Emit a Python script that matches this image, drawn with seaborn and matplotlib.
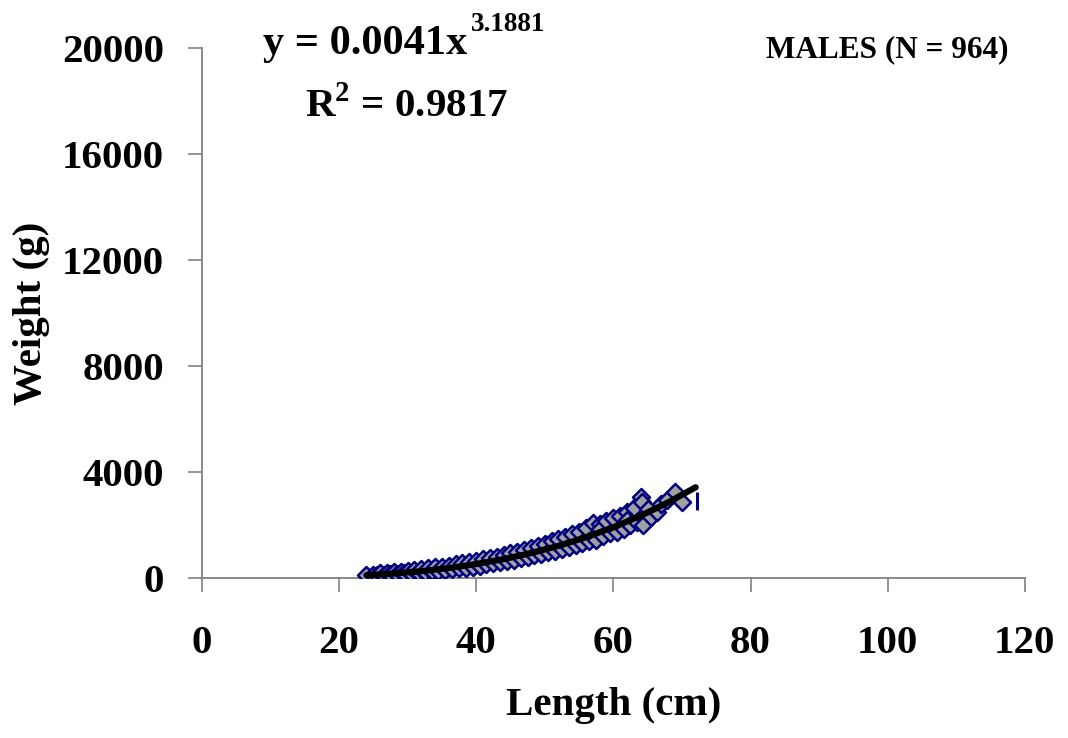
import matplotlib
matplotlib.use("Agg")
import matplotlib.pyplot as plt
import numpy as np
import pandas as pd
import seaborn as sns

# length-weight data (males)
length_cm = [24.0, 25.0, 25.5, 26.0, 26.5, 27.0, 27.5, 28.0, 28.5, 29.0, 29.5, 30.0, 30.5,
             31.0, 31.5, 32.0, 32.5, 33.0, 33.5, 34.0, 34.5, 35.0, 35.5, 36.0, 36.5, 37.0,
             37.5, 38.0, 38.5, 39.0, 39.5, 40.0, 40.5, 41.0, 41.5, 42.0, 42.5, 43.0, 43.5,
             44.0, 44.5, 45.0, 45.5, 46.0, 46.5, 47.0, 47.5, 48.0, 48.5, 49.0, 49.5, 50.0,
             50.5, 51.0, 51.5, 52.0, 52.5, 53.0, 53.5, 54.0, 54.5, 55.0, 55.5, 56.0, 56.5,
             57.0, 57.5, 58.0, 58.0, 58.5, 59.0, 59.5, 60.0, 60.5, 61.0, 61.5, 62.0, 62.0,
             62.5, 63.0, 63.5, 64.0, 64.2, 64.5, 64.3, 65.0, 65.5, 66.3, 67.0, 67.8, 69.0,
             70.0]
weight_g = [100, 130, 100, 170, 120, 190, 140, 220, 150, 240, 170, 270, 190,
            290, 210, 330, 230, 360, 260, 400, 280, 430, 300, 470, 330, 510,
            360, 560, 390, 600, 430, 650, 470, 700, 510, 750, 550, 810, 590,
            870, 640, 930, 690, 1000, 740, 1070, 790, 1150, 850, 1220, 910, 1300,
            970, 1380, 1030, 1470, 1100, 1560, 1170, 1650, 1240, 1750, 1310, 1880, 1380,
            2070, 1450, 2050, 1850, 1600, 2150, 1700, 2250, 1750, 2350, 1850, 2500, 2200,
            2000, 2650, 2100, 3050, 2850, 2300, 2000, 2600, 2300, 2490, 2800, 2940, 3240,
            2870]

# lone mark at the right end
edge_length = [72.2]
edge_weight = [2900]

# power trendline y = 0.0041x^3.1881
trend_length = [24, 28, 32, 36, 40, 44, 48, 52, 56, 60, 64, 68, 72]
trend_weight = [103, 169, 258, 376, 526, 712, 940, 1213, 1536, 1913, 2351, 2854, 3424]

x_ticks = [0, 20, 40, 60, 80, 100, 120]
y_ticks = [0, 4000, 8000, 12000, 16000, 20000]

sns.set_style("ticks")
plt.rcParams['font.family'] = ['Liberation Serif', 'DejaVu Serif']
plt.rcParams['font.weight'] = 'bold'
plt.rcParams['mathtext.fontset'] = 'custom'
plt.rcParams['mathtext.rm'] = 'Liberation Serif:bold'
plt.rcParams['mathtext.bf'] = 'Liberation Serif:bold'
plt.rcParams['text.color'] = 'black'
plt.rcParams['axes.labelcolor'] = 'black'
plt.rcParams['xtick.labelcolor'] = 'black'
plt.rcParams['ytick.labelcolor'] = 'black'

pts = pd.DataFrame({'Length': length_cm, 'Weight': weight_g})
trend = pd.DataFrame({'Length': trend_length, 'Weight': trend_weight})

fig = plt.figure(figsize=(10.68, 7.38), dpi=100)
ax = fig.add_axes([0.189, 0.2168, 0.7706, 0.7182])

sns.scatterplot(data=pts, x='Length', y='Weight', marker='D', s=75,
                color='#A0A0A0', edgecolor='#000080', linewidth=1.8, ax=ax, zorder=3)
ax.scatter(edge_length, edge_weight, marker='|', s=160, color='#000080', linewidths=2.2, zorder=3)
sns.lineplot(data=trend, x='Length', y='Weight', color='black', linewidth=4.5, ax=ax, zorder=4)

ax.set_xlim(0, 120)
ax.set_ylim(0, 20000)
ax.set_xticks(x_ticks)
ax.set_yticks(y_ticks)
ax.tick_params(axis='both', direction='out', length=10, width=1.2, color='#808080',
               labelsize=29.5, labelcolor='black')
ax.tick_params(axis='x', pad=24)
ax.tick_params(axis='y', pad=17)
for lab in ax.get_xticklabels() + ax.get_yticklabels():
    lab.set_fontweight('bold')

for s in ['top', 'right']:
    ax.spines[s].set_visible(False)
for s in ['left', 'bottom']:
    ax.spines[s].set_color('#808080')
    ax.spines[s].set_linewidth(1.3)

ax.set_xlabel('Length (cm)', fontsize=29.5, fontweight='bold', color='black')
ax.set_ylabel('Weight (g)', fontsize=29.5, fontweight='bold', color='black')
ax.xaxis.set_label_coords(0.5, -0.205)
ax.yaxis.set_label_coords(-0.185, 0.5)

W, H = 1068, 738
fig.text(263 / W, 1 - 54 / H, 'y = 0.0041x', fontsize=30.5,
         fontweight='bold', va='baseline', ha='left')
fig.text(471 / W, 1 - 31 / H, '3.1881', fontsize=19.5,
         fontweight='bold', va='baseline', ha='left')
fig.text(305 / W, 1 - 117 / H, r'R$^{\mathbf{2}}$ = 0.9817', fontsize=29.5,
         fontweight='bold', va='baseline', ha='left')
fig.text(766 / W, 1 - 57 / H, 'MALES (N = 964)', fontsize=22.5,
         fontweight='bold', va='baseline', ha='left')

fig.savefig('out.png', dpi=100)
